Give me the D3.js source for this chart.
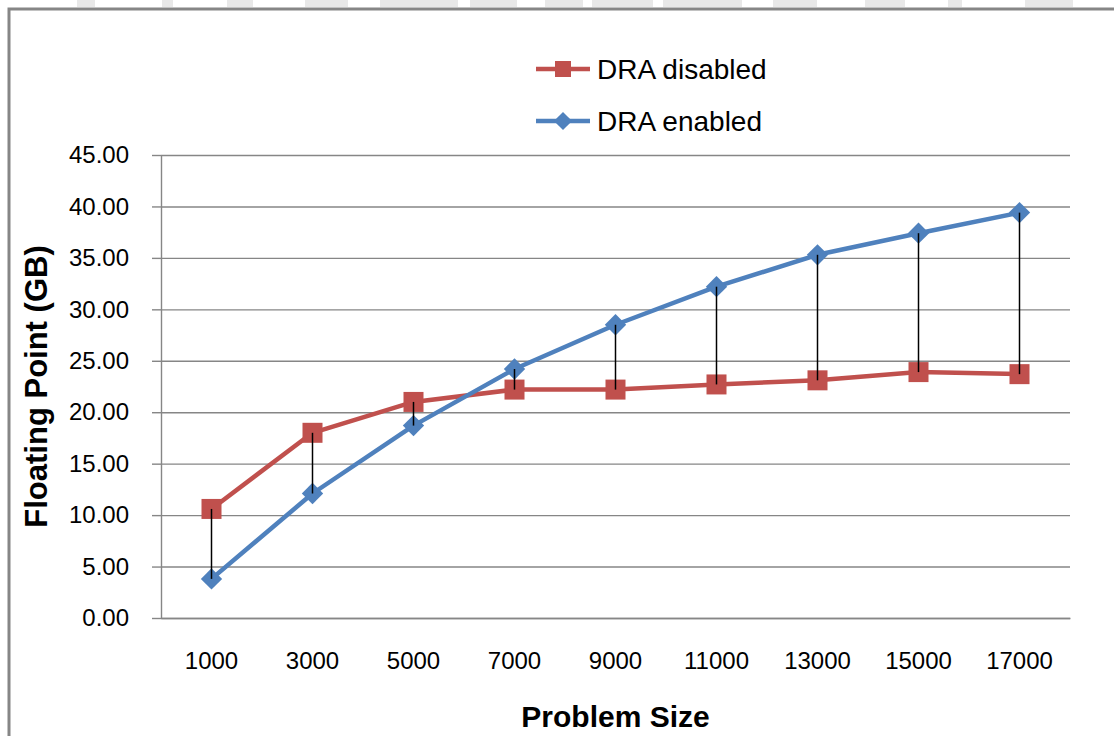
<!DOCTYPE html>
<html>
<head>
<meta charset="utf-8">
<script src="https://cdn.jsdelivr.net/npm/d3@7"></script>
<style>
    html, body { margin: 0; padding: 0; background: #fff; }
    svg { display: block; font-family: "Liberation Sans", Arial, sans-serif; }
</style>
</head>
<body>
<svg id="chart" width="1114" height="736"></svg>
<script>
(function () {
    'use strict';

    var categories = ['1000', '3000', '5000', '7000', '9000', '11000', '13000', '15000', '17000'];
    var draDisabled = [10.6, 18.0, 21.0, 22.2, 22.2, 22.7, 23.1, 23.9, 23.7];
    var draEnabled = [3.8, 12.1, 18.7, 24.2, 28.5, 32.2, 35.3, 37.4, 39.4];
    var yTicks = [0, 5, 10, 15, 20, 25, 30, 35, 40, 45];
    var seriesNames = ['DRA disabled', 'DRA enabled'];

    // faded watermark band cut off at the top edge
    var watermark = [[77, 95], [162, 173], [227, 253], [305, 348], [380, 458], [470, 517],
        [545, 583], [592, 653], [663, 742], [773, 817], [865, 905], [948, 962], [1025, 1073]];

    var colors = { disabled: '#C0504D', enabled: '#4F81BD', grid: '#868686' };

    var frame = { left: 161, right: 1070, top: 155, bottom: 618 };

    var svg = d3.select('#chart');

    svg.append('g').selectAll('rect')
        .data(watermark)
        .enter().append('rect')
        .attr('x', function (d) { return d[0]; })
        .attr('y', 0)
        .attr('width', function (d) { return d[1] - d[0]; })
        .attr('height', 7)
        .attr('fill', '#e8e8e8');

    // outer chart border (right/bottom edges fall outside the picture)
    svg.append('rect')
        .attr('x', 9).attr('y', 9)
        .attr('width', 1200).attr('height', 800)
        .attr('fill', 'none')
        .attr('stroke', '#868686')
        .attr('stroke-width', 3);

    var x = d3.scaleBand().domain(categories).range([frame.left, frame.right]);
    var y = d3.scaleLinear().domain([0, 45]).range([frame.bottom, frame.top]);
    var cx = function (c) { return x(c) + x.bandwidth() / 2; };

    // gridlines
    svg.append('g')
        .attr('transform', 'translate(' + frame.left + ',0)')
        .call(d3.axisLeft(y).tickValues(yTicks).tickSize(-(frame.right - frame.left)).tickFormat(''))
        .call(function (g) {
            g.select('.domain').remove();
            g.selectAll('line').attr('stroke', colors.grid).attr('stroke-width', 1.4);
        });

    // y axis
    svg.append('g')
        .attr('transform', 'translate(' + frame.left + ',0)')
        .call(d3.axisLeft(y).tickValues(yTicks).tickSizeInner(9).tickSizeOuter(0)
            .tickPadding(23).tickFormat(d3.format('.2f')))
        .call(function (g) {
            g.select('.domain').attr('stroke', colors.grid).attr('stroke-width', 1.4);
            g.selectAll('line').attr('stroke', colors.grid).attr('stroke-width', 1.4);
            g.selectAll('text').attr('font-size', 24).attr('font-family', null).attr('fill', '#000');
        });

    // x axis
    svg.append('g')
        .attr('transform', 'translate(0,' + frame.bottom + ')')
        .call(d3.axisBottom(x).tickSize(0).tickPadding(34))
        .call(function (g) {
            g.select('.domain').attr('stroke', colors.grid).attr('stroke-width', 1.4);
            g.selectAll('text').attr('font-size', 24).attr('font-family', null).attr('fill', '#000');
        });

    svg.append('text')
        .attr('x', (frame.left + frame.right) / 2)
        .attr('y', 727)
        .attr('text-anchor', 'middle')
        .attr('font-size', 30)
        .attr('font-weight', 'bold')
        .text('Problem Size');

    svg.append('text')
        .attr('transform', 'translate(47,' + (frame.top + frame.bottom) / 2 + ') rotate(-90)')
        .attr('text-anchor', 'middle')
        .attr('font-size', 31)
        .attr('font-weight', 'bold')
        .text('Floating Point (GB)');

    var line = d3.line()
        .x(function (d, i) { return cx(categories[i]); })
        .y(function (d) { return y(d); });

    var diamond = d3.symbol().type(d3.symbolDiamond2).size(290);

    function drawSeries(values, color, marker) {
        svg.append('path')
            .datum(values)
            .attr('d', line)
            .attr('fill', 'none')
            .attr('stroke', color)
            .attr('stroke-width', 4.5)
            .attr('stroke-linejoin', 'round');

        var g = svg.append('g');
        values.forEach(function (v, i) {
            if (marker === 'square') {
                g.append('rect')
                    .attr('x', cx(categories[i]) - 10)
                    .attr('y', y(v) - 10)
                    .attr('width', 20).attr('height', 20)
                    .attr('fill', color);
            } else {
                g.append('path')
                    .attr('d', diamond)
                    .attr('transform', 'translate(' + cx(categories[i]) + ',' + y(v) + ')')
                    .attr('fill', color);
            }
        });
    }

    drawSeries(draDisabled, colors.disabled, 'square');
    drawSeries(draEnabled, colors.enabled, 'diamond');

    // high-low lines
    svg.append('g').selectAll('line')
        .data(categories)
        .enter().append('line')
        .attr('x1', function (c) { return cx(c); })
        .attr('x2', function (c) { return cx(c); })
        .attr('y1', function (c, i) { return y(draDisabled[i]); })
        .attr('y2', function (c, i) { return y(draEnabled[i]); })
        .attr('stroke', '#000')
        .attr('stroke-width', 1.5);

    // legend
    var legend = svg.append('g');
    var legendRows = [
        { name: seriesNames[0], color: colors.disabled, marker: 'square', y: 69 },
        { name: seriesNames[1], color: colors.enabled, marker: 'diamond', y: 121 }
    ];
    legendRows.forEach(function (r) {
        legend.append('line')
            .attr('x1', 536).attr('x2', 590)
            .attr('y1', r.y).attr('y2', r.y)
            .attr('stroke', r.color)
            .attr('stroke-width', 4.5);
        if (r.marker === 'square') {
            legend.append('rect')
                .attr('x', 555).attr('y', r.y - 8)
                .attr('width', 16).attr('height', 16)
                .attr('fill', r.color);
        } else {
            legend.append('path')
                .attr('d', d3.symbol().type(d3.symbolDiamond2).size(210))
                .attr('transform', 'translate(563,' + r.y + ')')
                .attr('fill', r.color);
        }
        legend.append('text')
            .attr('x', 597)
            .attr('y', r.y + 10)
            .attr('font-size', 28)
            .text(r.name);
    });
}());
</script>
</body>
</html>
